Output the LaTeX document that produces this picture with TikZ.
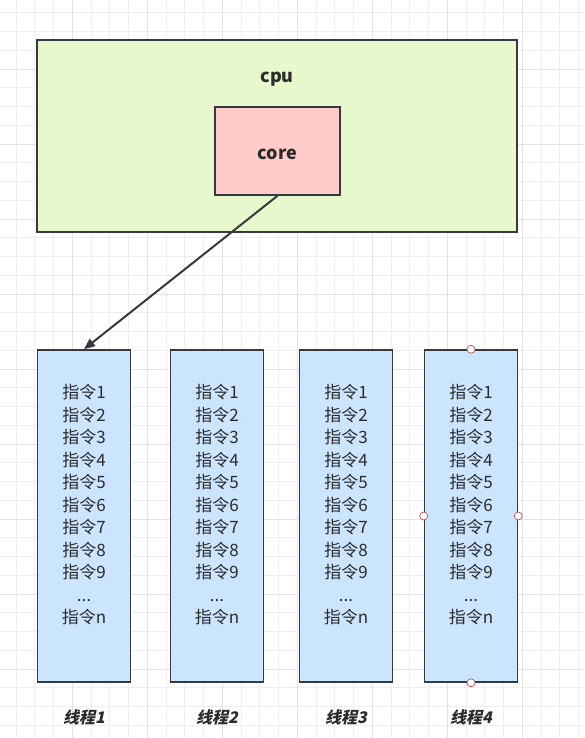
\documentclass[tikz,border=0pt]{standalone}
\usepackage{fontspec}
\setmainfont{Noto Sans CJK SC}
\newfontfamily\captionfont{Noto Sans CJK SC}[FakeSlant=0.22]
\usetikzlibrary{positioning,arrows.meta}
\definecolor{cpugreen}{HTML}{E6F8CC}
\definecolor{corered}{HTML}{FFCCC9}
\definecolor{threadblue}{HTML}{CCE5FF}
\definecolor{edge}{HTML}{36393D}
\definecolor{txt}{HTML}{2B2B2B}
\definecolor{gridminor}{HTML}{EEEEEE}
\definecolor{gridmajor}{HTML}{E2E2E2}
\definecolor{handleedge}{HTML}{B85450}

\begin{document}
\begin{tikzpicture}[x=1pt,y=-1pt,
  box/.style = {draw=edge, line width=1.6pt, inner sep=0pt},
  thread/.style = {box, fill=threadblue, minimum width=93pt, minimum height=332pt},
  steps/.style = {align=center, text=txt, font=\fontsize{17}{22.5}\selectfont},
  caption/.style = {text=txt, font=\captionfont\bfseries\fontsize{16}{18}\selectfont},
  handle/.style = {circle, draw=handleedge, fill=white, line width=0.7pt,
    minimum size=8pt, inner sep=0pt}]
  \useasboundingbox[fill=white] (0,0) rectangle (584,738);
  % background grid
  \foreach \i in {0,...,30}
    \draw[gridminor, line width=0.8pt] ({16+18.75*\i},0) -- ({16+18.75*\i},738);
  \foreach \i in {0,...,39}
    \draw[gridminor, line width=0.8pt] (0,{12.7+18.75*\i}) -- (584,{12.7+18.75*\i});
  \foreach \i in {0,...,7}
    \draw[gridmajor, line width=0.8pt] ({72.25+75*\i},0) -- ({72.25+75*\i},738);
  \foreach \i in {0,...,9}
    \draw[gridmajor, line width=0.8pt] (0,{68.95+75*\i}) -- (584,{68.95+75*\i});

  % cpu with its core
  \node[box, fill=cpugreen, minimum width=480pt, minimum height=192pt] (cpu) at (277,136) {};
  \node[text=txt, font=\bfseries\fontsize{18}{20}\selectfont] (cpulabel) at (277,79) {cpu};
  \node[box, fill=corered, minimum width=125pt, minimum height=88pt] (core) at (277.5,151) {};
  \node[text=txt, font=\bfseries\fontsize{18}{20}\selectfont] (corelabel) at (277.5,154) {core};

  % threads
  \node[thread] (thread1) at (84,516) {};
  \node[thread] (thread2) at (217,516) {};
  \node[thread] (thread3) at (346,516) {};
  \node[thread] (thread4) at (471,516) {};

  \node[steps] (steps1) at (84,505) {指令1\\指令2\\指令3\\指令4\\指令5\\指令6\\指令7\\指令8\\指令9\\...\\指令n};
  \node[steps] (steps2) at (217,505) {指令1\\指令2\\指令3\\指令4\\指令5\\指令6\\指令7\\指令8\\指令9\\...\\指令n};
  \node[steps] (steps3) at (346,505) {指令1\\指令2\\指令3\\指令4\\指令5\\指令6\\指令7\\指令8\\指令9\\...\\指令n};
  \node[steps] (steps4) at (471,505) {指令1\\指令2\\指令3\\指令4\\指令5\\指令6\\指令7\\指令8\\指令9\\...\\指令n};

  \node[caption, below=23pt of thread1] (name1) {线程1};
  \node[caption, below=23pt of thread2] (name2) {线程2};
  \node[caption, below=23pt of thread3] (name3) {线程3};
  \node[caption, below=23pt of thread4] (name4) {线程4};

  % core -> thread1
  \draw[edge, line width=2pt, -{Triangle[length=11pt,width=9pt]}] (core.south) -- (thread1.north);

  % selection handles on thread4
  \node[handle] (h1) at (thread4.north) {};
  \node[handle] (h2) at (thread4.west) {};
  \node[handle] (h3) at (thread4.east) {};
  \node[handle] (h4) at (thread4.south) {};
\end{tikzpicture}
\end{document}
